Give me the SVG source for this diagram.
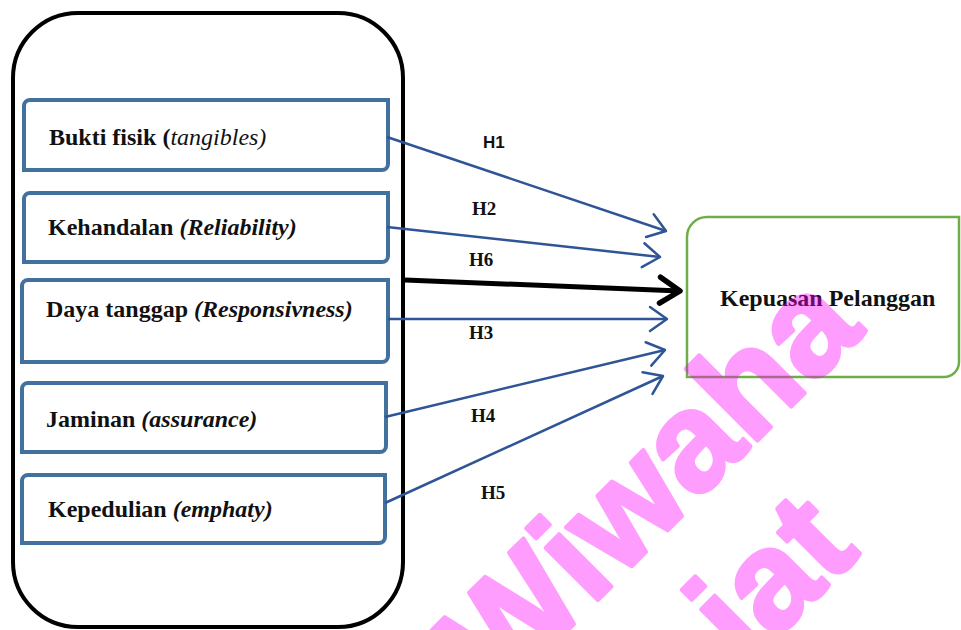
<svg xmlns="http://www.w3.org/2000/svg" width="961" height="630" viewBox="0 0 961 630">
<style>
.bx{fill:#fff;stroke:#41719c;stroke-width:4}
.lbl{font-family:"Liberation Serif",serif;font-weight:bold;font-size:24px;fill:#111}
.it{font-style:italic}
.h{font-family:"Liberation Serif",serif;font-weight:bold;font-size:19px;fill:#111}
.bl{stroke:#2f5597;stroke-width:2.5;fill:none;marker-end:url(#ab)}
.wm{font-family:"Liberation Sans",Arial,sans-serif;font-weight:bold;font-size:140px;fill:#ff00ff;stroke:#ff00ff;stroke-width:4;stroke-linejoin:round}
</style>
<defs>
<marker id="ab" markerUnits="userSpaceOnUse" orient="auto" refX="0" refY="0" markerWidth="40" markerHeight="40" viewBox="-25 -20 40 40" overflow="visible">
<path d="M-17,-12 L0,0 L-17,12" fill="none" stroke="#2f5597" stroke-width="2.5" stroke-linecap="round" stroke-linejoin="round"/>
</marker>
<marker id="ak" markerUnits="userSpaceOnUse" orient="auto" refX="0" refY="0" markerWidth="40" markerHeight="40" viewBox="-30 -20 40 40" overflow="visible">
<path d="M-20,-13 L0,0 L-20,13" fill="none" stroke="#000" stroke-width="5.5" stroke-linecap="round" stroke-linejoin="round"/>
</marker>
</defs>
<rect width="961" height="630" fill="#fff"/>
<g id="container">
<rect x="13" y="13" width="390" height="614" rx="65" ry="65" fill="#fff" stroke="#000" stroke-width="4"/>
</g>
<g id="n1">
<path class="bx" d="M24,106 A6,6 0 0 1 30,100 L388,100 L388,164 A6,6 0 0 1 382,170 L24,170 Z"/>
<text class="lbl" x="49" y="145">Bukti fisik (<tspan class="it" font-weight="normal">tangibles)</tspan></text>
</g>
<g id="n2">
<path class="bx" d="M24,199 A6,6 0 0 1 30,193 L388,193 L388,256 A6,6 0 0 1 382,262 L24,262 Z"/>
<text class="lbl" x="48" y="235">Kehandalan <tspan class="it">(Reliability)</tspan></text>
</g>
<g id="n3">
<path class="bx" d="M22,286 A6,6 0 0 1 28,280 L388,280 L388,356 A6,6 0 0 1 382,362 L22,362 Z"/>
<text class="lbl" x="46" y="317">Daya tanggap <tspan class="it">(Responsivness)</tspan></text>
</g>
<g id="n4">
<path class="bx" d="M22,389 A6,6 0 0 1 28,383 L386,383 L386,446 A6,6 0 0 1 380,452 L22,452 Z"/>
<text class="lbl" x="46" y="427">Jaminan <tspan class="it">(assurance)</tspan></text>
</g>
<g id="n5">
<path class="bx" d="M22,481 A6,6 0 0 1 28,475 L385,475 L385,537 A6,6 0 0 1 379,543 L22,543 Z"/>
<text class="lbl" x="48" y="517">Kepedulian <tspan class="it">(emphaty)</tspan></text>
</g>
<g id="target">
<path d="M687,237 A20,20 0 0 1 707,217 L959,217 L959,362 A15,15 0 0 1 944,377 L687,377 Z" fill="#fff" stroke="#70ad47" stroke-width="2.5"/>
<text class="lbl" x="720" y="306">Kepuasan Pelanggan</text>
</g>
<g id="connectors">
<line class="bl" x1="387" y1="137" x2="666" y2="231"/>
<line class="bl" x1="387" y1="227" x2="660" y2="257"/>
<line x1="405" y1="280" x2="680" y2="291" stroke="#000" stroke-width="5" marker-end="url(#ak)"/>
<line class="bl" x1="388" y1="319" x2="667" y2="319"/>
<line class="bl" x1="385" y1="417" x2="665" y2="350"/>
<line class="bl" x1="385" y1="503" x2="663" y2="376"/>
<text x="483" y="148" font-family="'Liberation Sans',Arial,sans-serif" font-weight="bold" font-size="17" fill="#111">H1</text>
<text class="h" x="472" y="215">H2</text>
<text class="h" x="469" y="266">H6</text>
<text class="h" x="469" y="339">H3</text>
<text class="h" x="471" y="422">H4</text>
<text class="h" x="481" y="499">H5</text>
</g>
<g id="watermark" opacity="0.38">
<text class="wm" text-anchor="end" transform="translate(866,332) rotate(-45)">Wiwaha</text>
<text class="wm" text-anchor="end" transform="translate(862,553) rotate(-45)">iat</text>
</g>
</svg>
